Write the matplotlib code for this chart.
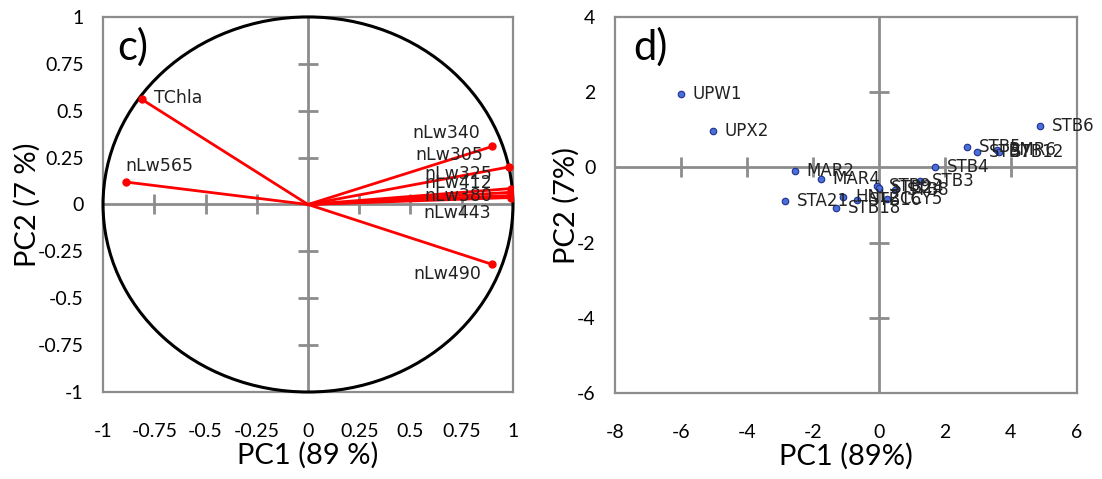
import matplotlib
matplotlib.use("Agg")
import matplotlib.pyplot as plt
from matplotlib.patches import Circle
import numpy as np

plt.rcParams['axes.unicode_minus'] = False

# ---------------- data ----------------
# panel c: loadings
var_names = ['TChla', 'nLw565', 'nLw340', 'nLw305', 'nLw325', 'nLw412', 'nLw380', 'nLw443', 'nLw490']
var_pc1 = [-0.81, -0.89, 0.90, 0.98, 0.99, 0.99, 0.99, 0.99, 0.90]
var_pc2 = [0.56, 0.12, 0.31, 0.20, 0.085, 0.065, 0.048, 0.037, -0.32]

# panel d: scores
st_names = ['UPW1', 'UPX2', 'MAR2', 'MAR4', 'STA21', 'STB18', 'HNL2', 'STB16', 'STB9',
            'STB24', 'STB8', 'CCY5', 'STB3', 'STB4', 'STB5', 'STB7', 'BMR6', 'STB12', 'STB6']
st_pc1 = [-6.0, -5.03, -2.55, -1.76, -2.85, -1.31, -1.08, -0.66, -0.05,
          0.0, 0.5, 0.25, 1.24, 1.70, 2.68, 2.98, 3.58, 3.64, 4.88]
st_pc2 = [1.95, 0.97, -0.09, -0.30, -0.89, -1.09, -0.78, -0.86, -0.49,
          -0.55, -0.60, -0.85, -0.35, 0.02, 0.55, 0.42, 0.47, 0.42, 1.11]

c_ticks = [-1, -0.75, -0.5, -0.25, 0, 0.25, 0.5, 0.75, 1]
c_ticklabels = ['-1', '-0.75', '-0.5', '-0.25', '0', '0.25', '0.5', '0.75', '1']
d_xticks = [-8, -6, -4, -2, 0, 2, 4, 6]
d_yticks = [-6, -4, -2, 0, 2, 4]

# label offsets (pixels) for panel c
c_label_offsets = {
    'TChla': (12, 1), 'nLw565': (0, 16), 'nLw340': (-80, 13), 'nLw305': (-94, 12),
    'nLw325': (-87, 15), 'nLw412': (-87, 9), 'nLw380': (-87, -1), 'nLw443': (-88, -15),
    'nLw490': (-79, -10),
}

GRAY = '#8c8c8c'
tick_font = ['Lato', 'DejaVu Sans']

fig = plt.figure(figsize=(11.02, 4.79), dpi=100)

def style_axes(ax, xt, yt, xl, yl, xlabels=None, ylabels=None, ylabelpad=4):
    for s in ax.spines.values():
        s.set_color(GRAY)
        s.set_linewidth(1.6)
    ax.set_xticks(xt)
    ax.set_yticks(yt)
    if xlabels is not None:
        ax.set_xticklabels(xlabels)
    if ylabels is not None:
        ax.set_yticklabels(ylabels)
    ax.tick_params(length=0, labelsize=14, pad=0)
    ax.tick_params(axis='x', pad=22)
    ax.tick_params(axis='y', pad=14)
    for lab in ax.get_xticklabels() + ax.get_yticklabels():
        lab.set_family(tick_font)
    ax.set_xlabel(xl, fontsize=21, family=tick_font, labelpad=2)
    ax.set_ylabel(yl, fontsize=21, family=tick_font, labelpad=ylabelpad)
    ax.axhline(0, color=GRAY, lw=2, zorder=1)
    ax.axvline(0, color=GRAY, lw=2, zorder=1)
    inner_x = [t for t in xt if t not in (0, xt[0], xt[-1])]
    inner_y = [t for t in yt if t not in (0, yt[0], yt[-1])]
    ax.plot(inner_x, np.zeros(len(inner_x)), ls='none', marker='|', ms=14, mew=2, color=GRAY, zorder=1)
    ax.plot(np.zeros(len(inner_y)), inner_y, ls='none', marker='_', ms=14, mew=2, color=GRAY, zorder=1)

# ---------------- panel c ----------------
axc = fig.add_axes([0.0935, 0.1816, 0.372, 0.783])
axc.set_xlim(-1, 1)
axc.set_ylim(-1, 1)
style_axes(axc, c_ticks, c_ticks, 'PC1 (89 %)', 'PC2 (7 %)', c_ticklabels, c_ticklabels, ylabelpad=-2)
axc.add_patch(Circle((0, 0), 1, fill=False, color='black', lw=2.2, zorder=3, clip_on=False))
for n, x, y in zip(var_names, var_pc1, var_pc2):
    axc.plot([0, x], [0, y], color='#ff0000', lw=2, zorder=4)
    axc.plot([x], [y], 'o', color='#ff0000', ms=5, zorder=5)
    dx, dy = c_label_offsets[n]
    axc.annotate(n, (x, y), xytext=(dx, dy), textcoords='offset pixels',
                 ha='left', va='center', fontsize=12.5, color='#222222', zorder=6)
axc.text(0.035, 0.92, 'c)', transform=axc.transAxes, fontsize=30, family=tick_font,
         va='center', ha='left')

# ---------------- panel d ----------------
axd = fig.add_axes([0.558, 0.1795, 0.419, 0.785])
axd.set_xlim(-8, 6)
axd.set_ylim(-6, 4)
style_axes(axd, d_xticks, d_yticks, 'PC1 (89%)', 'PC2 (7%)', ylabelpad=-2)
axd.scatter(st_pc1, st_pc2, s=22, color='#4a6fd8', edgecolor='#1f2f8f', linewidth=0.8, zorder=5)
for n, x, y in zip(st_names, st_pc1, st_pc2):
    axd.annotate(n, (x, y), xytext=(12, 0), textcoords='offset pixels',
                 ha='left', va='center', fontsize=12, color='#222222', zorder=6)
axd.text(0.04, 0.92, 'd)', transform=axd.transAxes, fontsize=30, family=tick_font,
         va='center', ha='left')

fig.savefig('out.png', dpi=100)
